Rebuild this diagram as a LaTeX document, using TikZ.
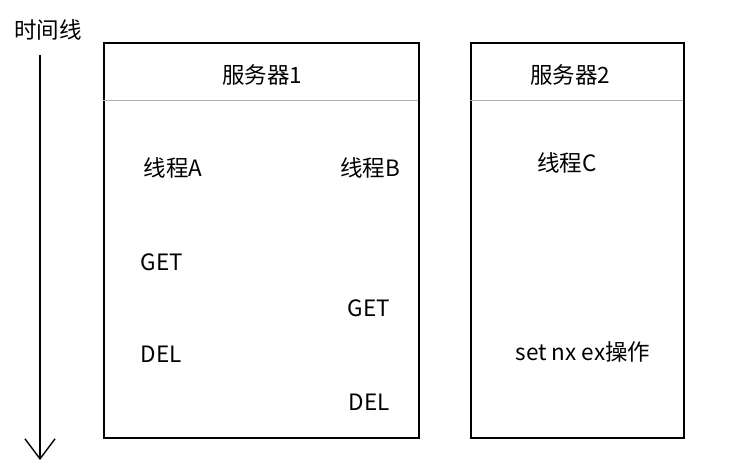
\documentclass[tikz,border=0pt]{standalone}
\usepackage{fontspec}
\setmainfont{Noto Sans CJK SC}
\usetikzlibrary{arrows.meta}
\begin{document}
\begin{tikzpicture}[x=1pt,y=-1pt,
  lbl/.style={font=\fontsize{22.5}{26}\selectfont, inner sep=0pt},
  box/.style={draw, line width=1.6pt}]
\useasboundingbox (0,0) rectangle (751,468);
\node[box, minimum width=315pt, minimum height=395pt, anchor=north west] (s1) at (103,42) {};
\node[box, minimum width=213pt, minimum height=395pt, anchor=north west] (s2) at (470,42) {};
\draw[gray!60] (103,100) -- (418,100);
\draw[gray!60] (470,100) -- (683,100);
\node[lbl] (t) at (48,30) {时间线};
\coordinate (a1) at (40,55);
\coordinate (a2) at (40,460);
\draw[line width=1.4pt, -{Straight Barb[length=20pt,width=30pt]}] (a1) -- (a2);
\node[lbl] (n1) at (262,75) {服务器1};
\node[lbl] (n2) at (570,75) {服务器2};
\node[lbl] (ta) at (173,168) {线程A};
\node[lbl] (tb) at (370,168) {线程B};
\node[lbl] (tc) at (567,163) {线程C};
\node[lbl] (g1) at (162,262) {GET};
\node[lbl] (g2) at (369,308) {GET};
\node[lbl] (d1) at (161,354) {DEL};
\node[lbl] (d2) at (369,402) {DEL};
\node[lbl] (sx) at (583,352) {set nx ex操作};
\end{tikzpicture}
\end{document}
